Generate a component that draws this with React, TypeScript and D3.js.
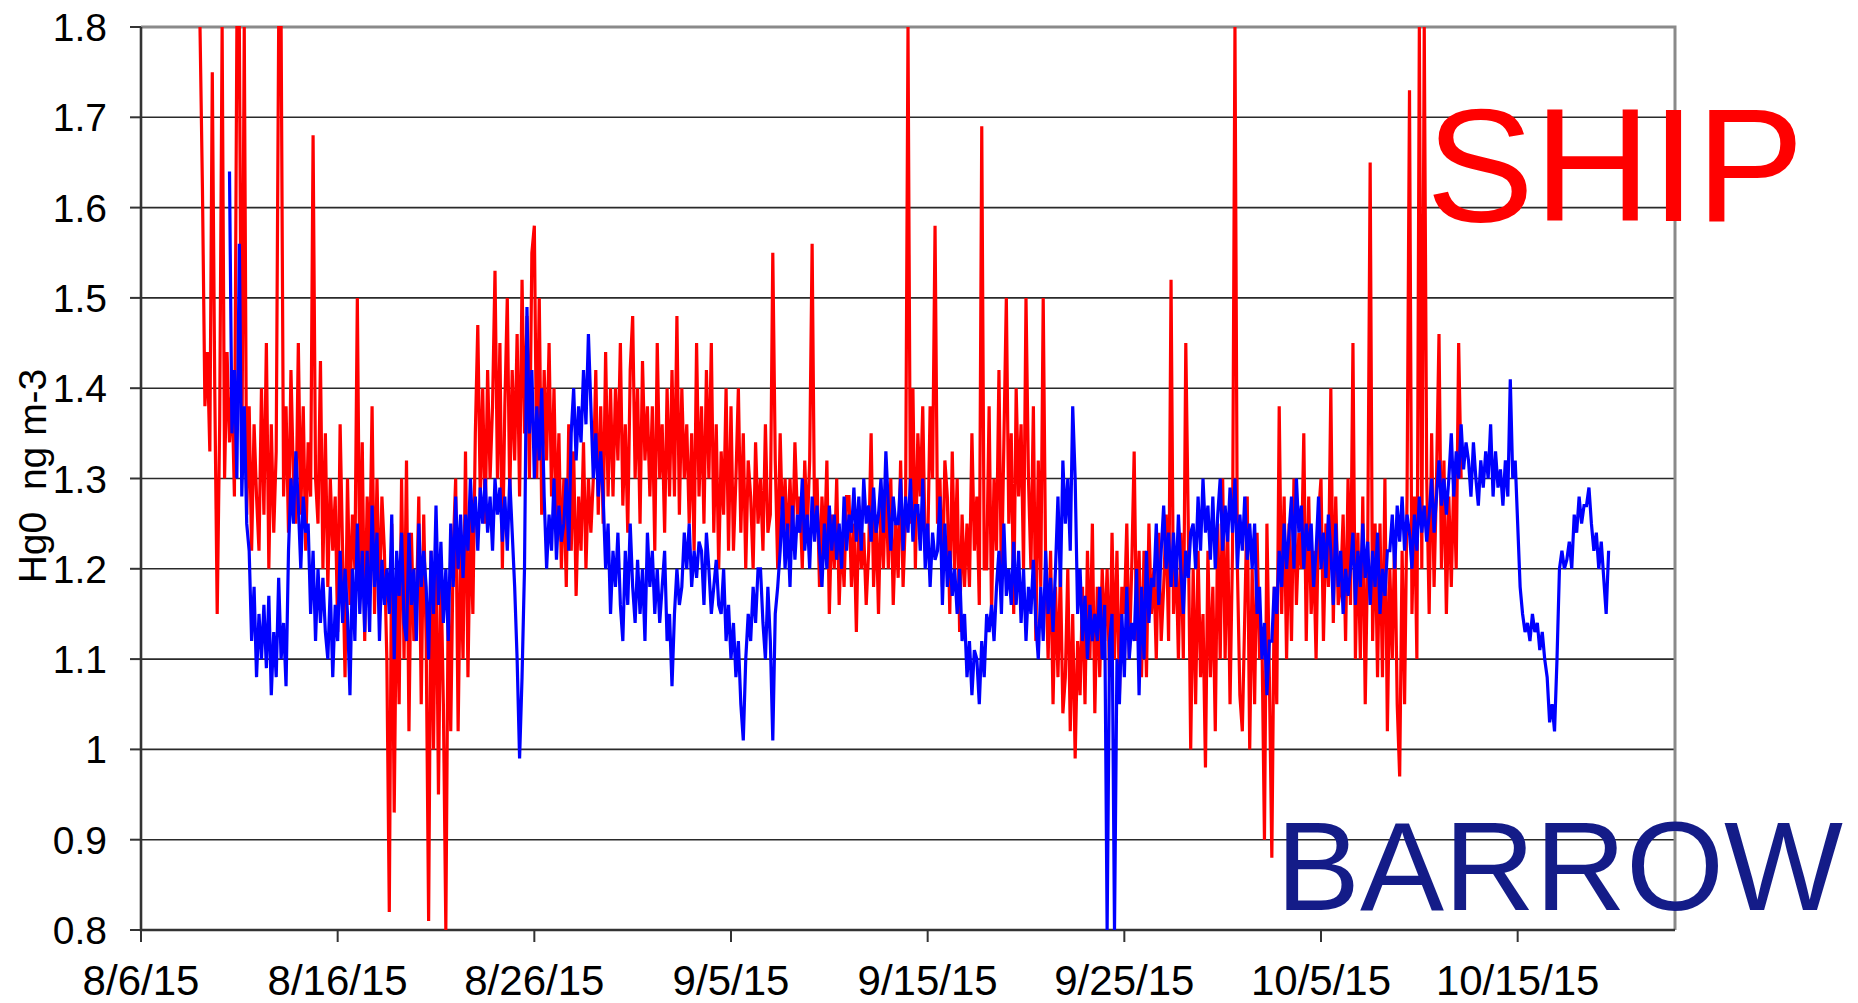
import React, { useEffect, useRef } from 'react';
import * as d3 from 'd3';

// 3-hourly samples
const stepHours = 3;

// SHIP series, starts 8/9/15 00:00 (one row = one day)
const shipStart = new Date(2015, 7, 9, 0);
const shipValues = [
  1.8, 1.62, 1.38, 1.44, 1.33, 1.75, 1.4, 1.15,
  1.36, 1.8, 1.3, 1.44, 1.34, 1.4, 1.28, 1.8,
  1.8, 1.3, 1.8, 1.26, 1.38, 1.22, 1.36, 1.28,
  1.22, 1.4, 1.26, 1.45, 1.2, 1.36, 1.24, 1.33,
  1.8, 1.8, 1.28, 1.38, 1.24, 1.42, 1.3, 1.25,
  1.45, 1.26, 1.38, 1.22, 1.34, 1.28, 1.68, 1.3,
  1.25, 1.43, 1.2, 1.35, 1.18, 1.3, 1.22, 1.28,
  1.13, 1.36, 1.22, 1.08, 1.3, 1.16, 1.26, 1.2,
  1.5, 1.18, 1.34, 1.12, 1.28, 1.2, 1.38, 1.15,
  1.3, 1.16, 1.28, 1.22, 1.1, 0.82, 1.25, 0.93,
  1.2, 1.05, 1.3, 1.1, 1.32, 1.02, 1.24, 1.12,
  1.15, 1.28, 1.05, 1.26, 1.12, 0.81, 1.22, 1.0,
  1.25, 0.95, 1.2, 1.05, 0.8, 1.18, 1.02, 1.22,
  1.3, 1.02, 1.22, 1.1, 1.33, 1.08, 1.26, 1.15,
  1.35, 1.47, 1.28, 1.4, 1.25, 1.42, 1.3, 1.38,
  1.53, 1.3, 1.45, 1.2, 1.38, 1.5, 1.28, 1.42,
  1.32, 1.46, 1.28, 1.52, 1.35, 1.48, 1.3, 1.55,
  1.58, 1.3, 1.5, 1.26, 1.42, 1.32, 1.45, 1.28,
  1.4, 1.25, 1.35, 1.2, 1.3, 1.18, 1.36, 1.22,
  1.33, 1.17, 1.28, 1.22, 1.34, 1.2, 1.3, 1.24,
  1.3, 1.42, 1.26, 1.38, 1.25, 1.44, 1.28, 1.4,
  1.28, 1.4, 1.32, 1.45, 1.27, 1.36, 1.24, 1.42,
  1.48, 1.3, 1.4, 1.25, 1.43, 1.32, 1.38, 1.28,
  1.38, 1.22, 1.45, 1.3, 1.36, 1.24, 1.4, 1.28,
  1.42, 1.28, 1.48, 1.26, 1.4, 1.3, 1.36, 1.25,
  1.35, 1.22, 1.45, 1.28, 1.38, 1.25, 1.42, 1.3,
  1.45, 1.24, 1.36, 1.2, 1.33, 1.26, 1.4, 1.22,
  1.38, 1.22, 1.3, 1.4, 1.24, 1.35, 1.2, 1.32,
  1.28, 1.2, 1.34, 1.25, 1.3, 1.22, 1.36, 1.24,
  1.26, 1.55, 1.32, 1.2, 1.35, 1.24, 1.3, 1.22,
  1.3, 1.22, 1.34, 1.26, 1.28, 1.2, 1.32, 1.24,
  1.32, 1.56, 1.25, 1.3, 1.18, 1.28, 1.22, 1.32,
  1.15, 1.26, 1.2, 1.3, 1.16, 1.24, 1.18, 1.28,
  1.28, 1.18, 1.25, 1.13, 1.27, 1.2, 1.24, 1.16,
  1.22, 1.35, 1.18, 1.26, 1.15, 1.28, 1.2, 1.3,
  1.2, 1.3, 1.16, 1.25, 1.19, 1.32, 1.18, 1.26,
  1.8, 1.25, 1.4, 1.2, 1.35, 1.28, 1.38, 1.22,
  1.22, 1.38, 1.3, 1.58, 1.25, 1.3, 1.18, 1.32,
  1.28, 1.15, 1.33, 1.2, 1.3, 1.13, 1.26, 1.18,
  1.25, 1.18, 1.35, 1.22, 1.28, 1.16, 1.69, 1.2,
  1.2, 1.38, 1.15, 1.3, 1.22, 1.42, 1.18, 1.34,
  1.5, 1.25, 1.35, 1.15, 1.4, 1.28, 1.36, 1.2,
  1.5, 1.3, 1.2, 1.38, 1.12, 1.32, 1.18, 1.5,
  1.2, 1.1, 1.22, 1.05, 1.18, 1.08, 1.2, 1.04,
  1.08, 1.2, 1.02, 1.15, 0.99, 1.12, 1.06, 1.18,
  1.05, 1.22, 1.1, 1.25, 1.04, 1.18, 1.08, 1.2,
  1.12, 1.2, 1.08, 1.24, 1.1, 1.22, 1.06, 1.18,
  1.15, 1.25, 1.1, 1.2, 1.33, 1.12, 1.22, 1.08,
  1.22, 1.08, 1.25, 1.15, 1.2, 1.1, 1.24, 1.12,
  1.18, 1.26, 1.12, 1.52, 1.15, 1.22, 1.1, 1.24,
  1.1, 1.45, 1.25, 1.0, 1.2, 1.05, 1.22, 1.08,
  1.15, 0.98, 1.22, 1.08, 1.18, 1.02, 1.25, 1.1,
  1.3, 1.1, 1.25, 1.05, 1.22, 1.8, 1.2, 1.06,
  1.02, 1.15, 1.28, 1.0, 1.2, 1.05, 1.24, 1.1,
  1.12, 0.9, 1.25, 1.08, 0.88, 1.18, 1.05, 1.38,
  1.15, 1.28, 1.1, 1.25, 1.12, 1.3, 1.16, 1.24,
  1.2, 1.35, 1.12, 1.28, 1.15, 1.22, 1.1, 1.26,
  1.3, 1.12, 1.25, 1.18, 1.4, 1.14, 1.28, 1.16,
  1.18, 1.26, 1.12, 1.3, 1.16, 1.45, 1.1, 1.24,
  1.1, 1.28, 1.05, 1.22, 1.65, 1.12, 1.25, 1.08,
  1.25, 1.08, 1.3, 1.02, 1.2, 1.1, 1.24, 1.05,
  0.97, 1.22, 1.05, 1.28, 1.73, 1.15, 1.28, 1.1,
  1.8, 1.2, 1.8, 1.3, 1.15, 1.35, 1.18, 1.3,
  1.46, 1.2, 1.32, 1.15, 1.28, 1.18, 1.3, 1.2,
  1.45, 1.3,
];

// BARROW series, starts 8/10/15 12:00 (one row = one day)
const barrowStart = new Date(2015, 7, 10, 12);
const barrowValues = [
  1.64, 1.35, 1.42, 1.3, 1.56, 1.28, 1.38, 1.25,
  1.22, 1.12, 1.18, 1.08, 1.15, 1.1, 1.16, 1.09,
  1.17, 1.06, 1.13, 1.08, 1.19, 1.1, 1.14, 1.07,
  1.22, 1.3, 1.25, 1.33, 1.27, 1.2, 1.28, 1.24,
  1.25, 1.15, 1.22, 1.12, 1.2, 1.14, 1.19, 1.13,
  1.1, 1.18, 1.08, 1.16, 1.12, 1.22, 1.14, 1.2,
  1.15, 1.06, 1.2, 1.12, 1.25, 1.15, 1.22, 1.13,
  1.22, 1.13, 1.27, 1.18, 1.24, 1.12, 1.21, 1.16,
  1.2, 1.15, 1.26, 1.1, 1.22, 1.17, 1.24, 1.14,
  1.12, 1.24, 1.16, 1.2, 1.12, 1.25, 1.18, 1.22,
  1.18, 1.1, 1.22, 1.15, 1.27, 1.16, 1.23, 1.14,
  1.2, 1.12, 1.25, 1.18, 1.28, 1.2, 1.26, 1.19,
  1.26, 1.22, 1.3, 1.24, 1.28, 1.22, 1.29, 1.25,
  1.3, 1.24, 1.28, 1.22, 1.3, 1.26, 1.29, 1.23,
  1.28, 1.22, 1.3, 1.24, 1.18, 1.1, 0.99, 1.08,
  1.2, 1.49, 1.35, 1.42, 1.3, 1.38, 1.32, 1.4,
  1.28, 1.2, 1.26, 1.22, 1.3, 1.21, 1.27, 1.23,
  1.25, 1.3, 1.22, 1.35, 1.4, 1.32, 1.38, 1.34,
  1.42, 1.36, 1.46, 1.38, 1.3, 1.35, 1.28, 1.33,
  1.28, 1.2, 1.25, 1.15, 1.22, 1.18, 1.24, 1.16,
  1.12, 1.22, 1.16, 1.25, 1.18, 1.14, 1.21, 1.15,
  1.2, 1.12, 1.24, 1.18, 1.22, 1.15, 1.2, 1.14,
  1.18, 1.22, 1.12, 1.15, 1.07, 1.15, 1.2, 1.16,
  1.18, 1.24, 1.2, 1.25, 1.18, 1.22, 1.19, 1.23,
  1.22, 1.16, 1.24, 1.2, 1.15, 1.18, 1.21, 1.16,
  1.15, 1.2, 1.12, 1.16, 1.1, 1.14, 1.08, 1.12,
  1.05, 1.01, 1.1, 1.15, 1.12, 1.18, 1.14, 1.2,
  1.2, 1.14, 1.1, 1.18, 1.12, 1.01, 1.15, 1.18,
  1.22, 1.28, 1.2, 1.25, 1.18, 1.27, 1.21, 1.26,
  1.24, 1.3, 1.22, 1.26, 1.2, 1.28, 1.23, 1.27,
  1.22, 1.18, 1.25, 1.2, 1.27, 1.22, 1.26, 1.21,
  1.25, 1.2, 1.28, 1.22, 1.26, 1.24, 1.29, 1.23,
  1.28, 1.22, 1.3, 1.25, 1.27, 1.23, 1.29, 1.24,
  1.26, 1.3, 1.24, 1.33, 1.27, 1.22, 1.28, 1.25,
  1.25, 1.3, 1.22, 1.28, 1.24, 1.3, 1.23, 1.27,
  1.27, 1.22, 1.3, 1.2, 1.25, 1.18, 1.24, 1.21,
  1.22, 1.28, 1.16, 1.25, 1.18, 1.22, 1.17, 1.2,
  1.15, 1.2, 1.12, 1.15, 1.08, 1.12, 1.06, 1.11,
  1.1, 1.05, 1.12, 1.08, 1.15, 1.13, 1.16, 1.12,
  1.18, 1.22, 1.15, 1.25, 1.17, 1.2, 1.16, 1.23,
  1.16, 1.22, 1.14, 1.2, 1.12, 1.18, 1.15, 1.21,
  1.14, 1.1, 1.18, 1.12, 1.22, 1.15, 1.19, 1.13,
  1.2, 1.28, 1.18, 1.32, 1.25, 1.3, 1.22, 1.38,
  1.3, 1.15, 1.2, 1.12, 1.17, 1.1, 1.16, 1.12,
  1.15, 1.12, 1.18, 1.1, 1.16, 0.8, 1.12, 1.15,
  0.8, 1.1, 1.05, 1.15, 1.08, 1.18, 1.1, 1.14,
  1.12, 1.2, 1.06, 1.18, 1.1, 1.22, 1.14, 1.19,
  1.18, 1.25, 1.16, 1.22, 1.27, 1.2, 1.24, 1.18,
  1.24, 1.18, 1.26, 1.2, 1.15, 1.22, 1.19, 1.24,
  1.25, 1.2, 1.28, 1.22, 1.3, 1.24, 1.27, 1.21,
  1.28, 1.2, 1.26, 1.3, 1.22, 1.27, 1.23, 1.29,
  1.24, 1.3, 1.2, 1.26, 1.22, 1.28, 1.21, 1.25,
  1.2, 1.25, 1.15, 1.18, 1.1, 1.14, 1.06, 1.12,
  1.12, 1.18, 1.15, 1.22, 1.18, 1.25, 1.2, 1.24,
  1.28, 1.2, 1.3, 1.24, 1.27, 1.2, 1.25, 1.22,
  1.25, 1.18, 1.22, 1.28, 1.2, 1.24, 1.19, 1.26,
  1.22, 1.16, 1.25, 1.18, 1.22, 1.15, 1.2, 1.17,
  1.2, 1.24, 1.16, 1.22, 1.18, 1.25, 1.19, 1.23,
  1.16, 1.22, 1.18, 1.24, 1.15, 1.2, 1.17, 1.22,
  1.22, 1.26, 1.2, 1.27, 1.23, 1.28, 1.22, 1.26,
  1.24, 1.2, 1.26, 1.22, 1.28, 1.24, 1.27, 1.23,
  1.26, 1.3, 1.24, 1.28, 1.32, 1.27, 1.3, 1.26,
  1.3, 1.35, 1.28, 1.33, 1.3, 1.36, 1.31, 1.34,
  1.32, 1.28, 1.34, 1.3, 1.27, 1.32, 1.29, 1.33,
  1.3, 1.36, 1.28, 1.33, 1.29, 1.31, 1.27, 1.32,
  1.28, 1.41, 1.3, 1.32, 1.25, 1.18, 1.15, 1.13,
  1.14, 1.12, 1.15, 1.13, 1.14, 1.11, 1.13, 1.1,
  1.08, 1.03, 1.05, 1.02, 1.1, 1.2, 1.22, 1.2,
  1.21, 1.23, 1.2, 1.26, 1.24, 1.28, 1.25, 1.27,
  1.27, 1.29, 1.25, 1.22, 1.24, 1.2, 1.23, 1.19,
  1.15, 1.22,
];

const yTicks = [0.8, 0.9, 1, 1.1, 1.2, 1.3, 1.4, 1.5, 1.6, 1.7, 1.8];
const xTickDates = [
  new Date(2015, 7, 6),
  new Date(2015, 7, 16),
  new Date(2015, 7, 26),
  new Date(2015, 8, 5),
  new Date(2015, 8, 15),
  new Date(2015, 8, 25),
  new Date(2015, 9, 5),
  new Date(2015, 9, 15),
];
const xTickLabels = ['8/6/15', '8/16/15', '8/26/15', '9/5/15', '9/15/15', '9/25/15', '10/5/15', '10/15/15'];

export default function App() {
  const ref = useRef(null);

  useEffect(() => {
    const width = 1858;
    const height = 1003;
    const margin = { top: 27, right: 183, bottom: 73, left: 141 };
    const font = "'Liberation Sans', Arial, sans-serif";

    const x = d3
      .scaleTime()
      .domain([new Date(2015, 7, 6), new Date(2015, 9, 23)])
      .range([margin.left, width - margin.right]);

    const y = d3
      .scaleLinear()
      .domain([0.8, 1.8])
      .range([height - margin.bottom, margin.top]);

    const svg = d3.select(ref.current);
    svg.selectAll('*').remove();
    svg.attr('viewBox', [0, 0, width, height]);

    svg
      .append('defs')
      .append('clipPath')
      .attr('id', 'plot-clip')
      .append('rect')
      .attr('x', margin.left)
      .attr('y', margin.top - 1)
      .attr('width', width - margin.right - margin.left)
      .attr('height', height - margin.bottom - margin.top + 1);

    // gridlines
    svg
      .append('g')
      .selectAll('line')
      .data(yTicks.filter((d) => d > 0.8 && d < 1.8))
      .enter()
      .append('line')
      .attr('x1', margin.left)
      .attr('x2', width - margin.right)
      .attr('y1', (d) => y(d))
      .attr('y2', (d) => y(d))
      .attr('stroke', '#2a2a2a')
      .attr('stroke-width', 1.6);

    // frame: top + right grey, left + bottom dark
    const frame = svg.append('g').attr('fill', 'none');
    frame
      .append('path')
      .attr('d', `M${margin.left},${y(1.8)}H${x.range()[1]}V${y(0.8)}`)
      .attr('stroke', '#8a8a8a')
      .attr('stroke-width', 3);

    const stamp = (start, i) => new Date(start.getTime() + i * stepHours * 3600 * 1000);

    const line = (start) =>
      d3
        .line()
        .x((d, i) => x(stamp(start, i)))
        .y((d) => y(d));

    const plot = svg.append('g').attr('clip-path', 'url(#plot-clip)');

    plot
      .append('path')
      .datum(shipValues)
      .attr('d', line(shipStart))
      .attr('fill', 'none')
      .attr('stroke', '#ff0000')
      .attr('stroke-width', 3.2);

    plot
      .append('path')
      .datum(barrowValues)
      .attr('d', line(barrowStart))
      .attr('fill', 'none')
      .attr('stroke', '#0000ff')
      .attr('stroke-width', 3.2);

    frame
      .append('path')
      .attr('d', `M${margin.left},${y(1.8)}V${y(0.8)}H${x.range()[1]}`)
      .attr('stroke', '#333333')
      .attr('stroke-width', 2.6);

    // y axis ticks + labels
    const yAxis = svg.append('g');
    yAxis
      .selectAll('line')
      .data(yTicks)
      .enter()
      .append('line')
      .attr('x1', margin.left - 11)
      .attr('x2', margin.left)
      .attr('y1', (d) => y(d))
      .attr('y2', (d) => y(d))
      .attr('stroke', '#333333')
      .attr('stroke-width', 2);
    yAxis
      .selectAll('text')
      .data(yTicks)
      .enter()
      .append('text')
      .attr('x', 107)
      .attr('y', (d) => y(d))
      .attr('dy', '0.36em')
      .attr('text-anchor', 'end')
      .attr('font-family', font)
      .attr('font-size', 39)
      .attr('fill', '#000')
      .text((d) => d3.format('')(d));

    // x axis ticks + labels
    const xAxis = svg.append('g');
    xAxis
      .selectAll('line')
      .data(xTickDates)
      .enter()
      .append('line')
      .attr('x1', (d) => x(d))
      .attr('x2', (d) => x(d))
      .attr('y1', y(0.8))
      .attr('y2', y(0.8) + 12)
      .attr('stroke', '#333333')
      .attr('stroke-width', 2);
    xAxis
      .selectAll('text')
      .data(xTickDates)
      .enter()
      .append('text')
      .attr('x', (d) => x(d))
      .attr('y', 995)
      .attr('text-anchor', 'middle')
      .attr('font-family', font)
      .attr('font-size', 42)
      .attr('fill', '#000')
      .text((d, i) => xTickLabels[i]);

    // y title
    svg
      .append('text')
      .attr('transform', `translate(46, 476) rotate(-90)`)
      .attr('text-anchor', 'middle')
      .attr('font-family', font)
      .attr('font-size', 39)
      .attr('fill', '#000')
      .attr('xml:space', 'preserve')
      .style('white-space', 'pre')
      .text('Hg0  ng m-3');

    // series labels
    svg
      .append('text')
      .attr('x', 1426)
      .attr('y', 221)
      .attr('font-family', font)
      .attr('font-size', 162)
      .attr('fill', '#ff0000')
      .text('SHIP');

    svg
      .append('text')
      .attr('x', 1276)
      .attr('y', 910)
      .attr('font-family', font)
      .attr('font-size', 126)
      .attr('fill', '#141c88')
      .text('BARROW');
  });

  return (
    <>
      <svg
        ref={ref}
        width={1858}
        height={1003}
        style={{ position: 'absolute', left: 0, top: 0, background: '#fff' }}
      />
    </>
  );
}
